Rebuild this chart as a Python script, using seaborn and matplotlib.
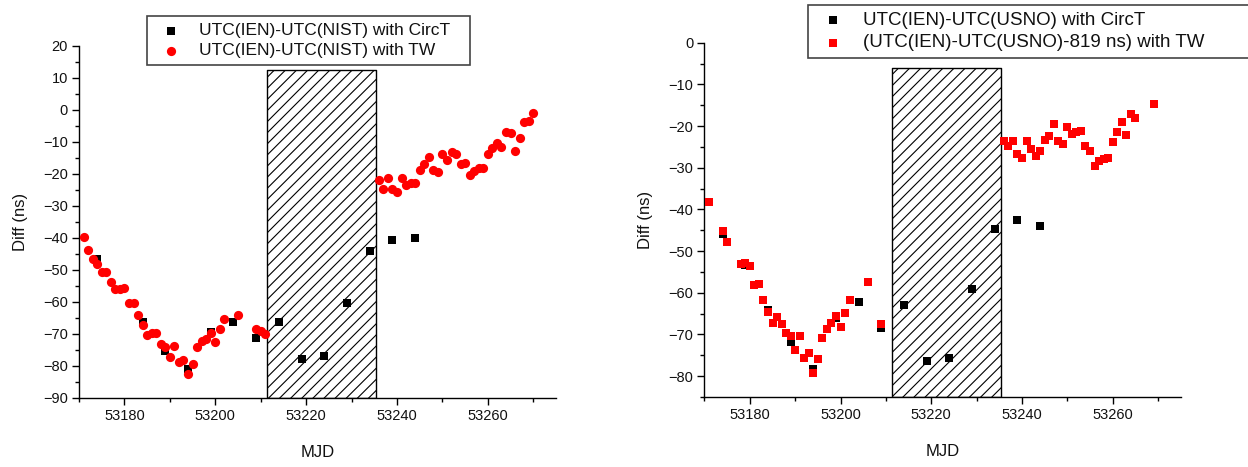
import matplotlib
matplotlib.use("Agg")
import matplotlib.pyplot as plt
from matplotlib.ticker import MultipleLocator
import seaborn as sns

# ---- UTC(IEN) - UTC(NIST) ----
nist_circt_mjd = [53174, 53184, 53189, 53194, 53199, 53204, 53209,
                  53214, 53219, 53224, 53229, 53234, 53239, 53244]
nist_circt_ns = [-46.5, -66.3, -75.3, -81.1, -69.3, -66.2, -71.1,
                 -66.4, -77.9, -77.0, -60.3, -44.0, -40.5, -40.1]

nist_tw_mjd = [53171, 53172, 53173, 53174, 53175, 53176, 53177, 53178, 53179,
               53180, 53181, 53182, 53183, 53184, 53185, 53186, 53187, 53188,
               53189, 53190, 53191, 53192, 53193, 53194, 53195, 53196, 53197,
               53198, 53199, 53200, 53201, 53202, 53205, 53209, 53210, 53211,
               53236, 53237, 53238, 53239, 53240, 53241, 53242, 53243, 53244,
               53245, 53246, 53247, 53248, 53249, 53250, 53251, 53252, 53253,
               53254, 53255, 53256, 53257, 53258, 53259, 53260, 53261, 53262,
               53263, 53264, 53265, 53266, 53267, 53268, 53269, 53270]
nist_tw_ns = [-39.8, -43.7, -46.6, -48.1, -50.5, -50.5, -53.8, -55.8, -55.8,
              -55.5, -60.3, -60.3, -64.1, -67.1, -70.4, -69.8, -69.8, -73.1,
              -74.0, -77.2, -73.6, -78.8, -78.2, -82.6, -79.3, -74.2, -72.1,
              -71.6, -69.8, -72.5, -68.4, -65.3, -64.1, -68.3, -69.2, -70.1,
              -21.8, -24.7, -21.1, -24.7, -25.5, -21.3, -23.3, -22.9, -22.8,
              -18.6, -16.8, -14.8, -18.7, -19.3, -13.9, -15.7, -13.0, -13.7,
              -16.9, -16.7, -20.2, -19.2, -18.1, -18.2, -13.9, -11.9, -10.4,
              -11.7, -6.8, -7.3, -12.7, -8.6, -3.8, -3.4, -0.8]

# ---- UTC(IEN) - UTC(USNO) ----
usno_circt_mjd = [53174, 53179, 53184, 53189, 53194, 53199, 53204, 53209,
                  53214, 53219, 53224, 53229, 53234, 53239, 53244]
usno_circt_ns = [-45.8, -53.4, -64.1, -71.9, -78.2, -66.1, -62.3, -68.5,
                 -62.9, -76.3, -75.6, -59.1, -44.8, -42.6, -43.9]

usno_tw_mjd = [53171, 53174, 53175, 53178, 53179, 53180, 53181, 53182, 53183,
               53184, 53185, 53186, 53187, 53188, 53189, 53190, 53191, 53192,
               53193, 53194, 53195, 53196, 53197, 53198, 53199, 53200, 53201,
               53202, 53206, 53209,
               53236, 53237, 53238, 53239, 53240, 53241, 53242, 53243, 53244,
               53245, 53246, 53247, 53248, 53249, 53250, 53251, 53252, 53253,
               53254, 53255, 53256, 53257, 53258, 53259, 53260, 53261, 53262,
               53263, 53264, 53265, 53269]
usno_tw_ns = [-38.3, -45.2, -47.7, -53.1, -52.8, -53.6, -58.1, -57.9, -61.7,
              -64.5, -67.3, -65.8, -67.6, -69.7, -70.3, -73.8, -70.3, -75.7,
              -74.4, -79.3, -76.0, -70.9, -68.7, -67.3, -65.5, -68.2, -64.9,
              -61.7, -57.3, -67.4,
              -23.7, -24.8, -23.5, -26.7, -27.7, -23.6, -25.5, -27.2, -25.9,
              -23.4, -22.3, -19.6, -23.6, -24.4, -20.3, -21.9, -21.4, -21.1,
              -24.7, -25.9, -29.5, -28.3, -27.8, -27.7, -23.9, -21.5, -19.1,
              -22.1, -17.1, -18.1, -14.6]

# Data gap (hatched band)
gap_start, gap_end = 53211.4, 53235.3
nist_gap_top, usno_gap_top = 12.5, -6.0

mjd_range = (53170, 53275)
nist_ylim = (-90, 20)
usno_ylim = (-85, 0)

sns.set_theme(style="white")
plt.rcParams["font.family"] = ["Liberation Sans", "DejaVu Sans"]
plt.rcParams["hatch.linewidth"] = 0.8
plt.rcParams["hatch.color"] = "black"

fig = plt.figure(figsize=(12.48, 4.67), dpi=100)
ax1 = fig.add_axes([0.0633, 0.1478, 0.3822, 0.7537])
ax2 = fig.add_axes([0.5645, 0.1499, 0.3816, 0.7587])


def style_axes(ax, ylim):
    ax.set_xlim(*mjd_range)
    ax.set_ylim(*ylim)
    for side in ("top", "right"):
        ax.spines[side].set_visible(False)
    for side in ("left", "bottom"):
        ax.spines[side].set_color("black")
        ax.spines[side].set_linewidth(1.0)
    ax.xaxis.set_major_locator(MultipleLocator(20))
    ax.xaxis.set_minor_locator(MultipleLocator(10))
    ax.yaxis.set_major_locator(MultipleLocator(10))
    ax.yaxis.set_minor_locator(MultipleLocator(5))
    ax.tick_params(which="both", bottom=True, left=True, direction="out",
                   color="black", width=1.0)
    ax.tick_params(which="major", length=5, labelsize=10.5, pad=3,
                   labelcolor="#111111")
    ax.tick_params(which="minor", length=3)
    ax.set_xlabel("MJD", fontsize=12, labelpad=16, color="#111111")
    ax.set_ylabel("Diff (ns)", fontsize=12, labelpad=11, color="#111111")
    ax.grid(False)


def gap_band(ax, bottom, top):
    ax.fill_between([gap_start, gap_end], bottom, top, facecolor="white",
                    edgecolor="black", hatch="///", linewidth=1.0, zorder=1)


# Left panel
gap_band(ax1, nist_ylim[0], nist_gap_top)
sns.scatterplot(x=nist_circt_mjd, y=nist_circt_ns, ax=ax1, marker="s",
                color="black", s=36, linewidth=0, zorder=3,
                label="UTC(IEN)-UTC(NIST) with CircT")
sns.scatterplot(x=nist_tw_mjd, y=nist_tw_ns, ax=ax1, marker="o",
                color="#ff0000", s=44, linewidth=0, zorder=4,
                label="UTC(IEN)-UTC(NIST) with TW")
style_axes(ax1, nist_ylim)

# Right panel
gap_band(ax2, usno_ylim[0], usno_gap_top)
sns.scatterplot(x=usno_circt_mjd, y=usno_circt_ns, ax=ax2, marker="s",
                color="black", s=32, linewidth=0, zorder=3,
                label="UTC(IEN)-UTC(USNO) with CircT")
sns.scatterplot(x=usno_tw_mjd, y=usno_tw_ns, ax=ax2, marker="s",
                color="#ff0000", s=32, linewidth=0, zorder=4,
                label="(UTC(IEN)-UTC(USNO)-819 ns) with TW")
style_axes(ax2, usno_ylim)

leg_kw = dict(loc="upper left", bbox_transform=fig.transFigure, frameon=True,
              fancybox=False, shadow=False, edgecolor="#444444",
              framealpha=1.0, labelspacing=0.3, handletextpad=0.6,
              borderaxespad=0)
leg1 = ax1.legend(bbox_to_anchor=(147 / 1248, 1 - 16 / 467, 323 / 1248, 0),
                  mode="expand", fontsize=12.5, borderpad=0.4, **leg_kw)
leg2 = ax2.legend(bbox_to_anchor=(808 / 1248, 1 - 5 / 467, 460 / 1248, 0),
                  mode="expand", fontsize=13.5, borderpad=0.35, **leg_kw)
for leg in (leg1, leg2):
    leg.get_frame().set_linewidth(1.2)
    for t in leg.get_texts():
        t.set_color("#111111")

fig.savefig("out.png", dpi=100, facecolor="white")
